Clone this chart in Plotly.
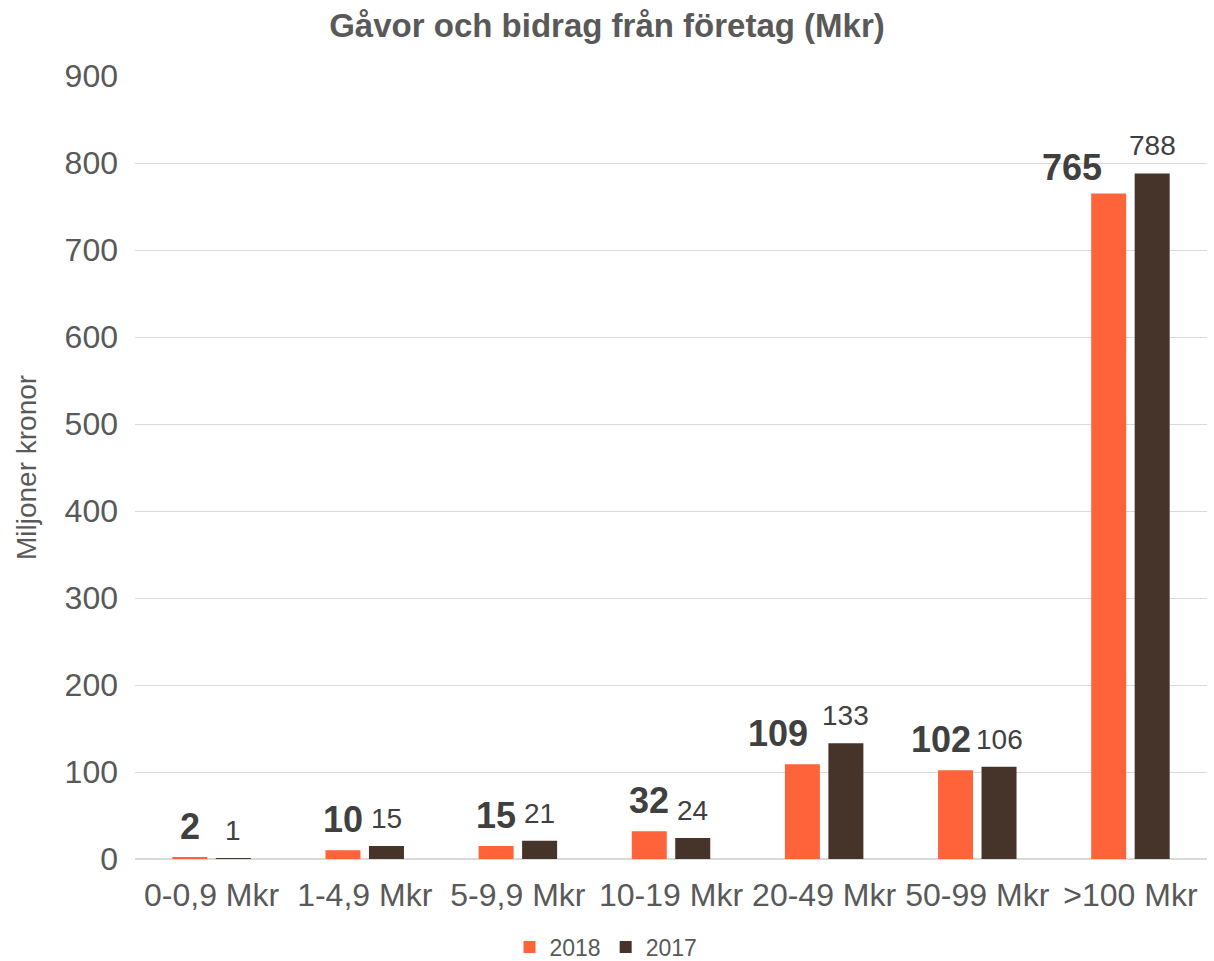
import plotly.graph_objects as go

# Kategorier och värden (Mkr)
CATEGORIES = ["0-0,9 Mkr", "1-4,9 Mkr", "5-9,9 Mkr", "10-19 Mkr",
              "20-49 Mkr", "50-99 Mkr", ">100 Mkr"]
VALUES_2018 = [2, 10, 15, 32, 109, 102, 765]
VALUES_2017 = [1, 15, 21, 24, 133, 106, 788]
Y_TICKS = [0, 100, 200, 300, 400, 500, 600, 700, 800, 900]

# Handflyttade etiketter för 2018 (px), som i originalet
LABEL_XSHIFT_2018 = [0, 0, 0, 0, -24, -15, -37]
LABEL_YSHIFT_2018 = [0, 0, 0, 0, 0, 0, -5]

ORANGE = "#FF6339"
BROWN = "#46332A"
GREY_TEXT = "#595959"
LABEL_TEXT = "#404040"
FONT = "Liberation Sans, Arial, sans-serif"

W, H = 1214, 961
M_L, M_R, M_T, M_B = 135, 7, 76, 102
BARGAP = 0.432
BARGROUPGAP = 0.195

fig = go.Figure()
fig.add_trace(go.Bar(x=CATEGORIES, y=VALUES_2018, name="2018",
                     marker=dict(color=ORANGE, line=dict(width=0)),
                     hoverinfo="x+y+name"))
fig.add_trace(go.Bar(x=CATEGORIES, y=VALUES_2017, name="2017",
                     marker=dict(color=BROWN, line=dict(width=0)),
                     hoverinfo="x+y+name"))

# Förskjutning från kategorins mitt till respektive stapel (px)
cat_w = (W - M_L - M_R) / len(CATEGORIES)
bar_off = cat_w * (1 - BARGAP) / 4

for cat, v, sx, sy in zip(CATEGORIES, VALUES_2018,
                          LABEL_XSHIFT_2018, LABEL_YSHIFT_2018):
    fig.add_annotation(x=cat, y=v, text=f"<b>{v}</b>", showarrow=False,
                       xanchor="center", yanchor="bottom",
                       xshift=-bar_off + sx, yshift=8 + sy,
                       font=dict(size=36, color=LABEL_TEXT, family=FONT))
for cat, v in zip(CATEGORIES, VALUES_2017):
    fig.add_annotation(x=cat, y=v, text=str(v), showarrow=False,
                       xanchor="center", yanchor="bottom",
                       xshift=bar_off, yshift=10,
                       font=dict(size=28, color=LABEL_TEXT, family=FONT))

fig.update_layout(
    width=W, height=H,
    margin=dict(l=M_L, r=M_R, t=M_T, b=M_B),
    paper_bgcolor="white", plot_bgcolor="white",
    font=dict(family=FONT, color=GREY_TEXT),
    barmode="group", bargap=BARGAP, bargroupgap=BARGROUPGAP,
    title=dict(text="<b>Gåvor och bidrag från företag (Mkr)</b>",
               font=dict(size=33, color=GREY_TEXT),
               x=0.5, xref="container", xanchor="center",
               y=1 - 25 / H, yref="container", yanchor="middle"),
    legend=dict(orientation="h", x=606 / W, xanchor="center",
                y=1 - 947 / H, yanchor="middle",
                xref="container", yref="container",
                font=dict(size=23, color=GREY_TEXT),
                itemwidth=30, traceorder="normal"),
    showlegend=True,
)
fig.update_xaxes(showgrid=False, showline=False, ticks="", automargin=False,
                 ticklabelstandoff=14,
                 tickfont=dict(size=32, color=GREY_TEXT))
fig.update_yaxes(range=[0, 900], tickvals=Y_TICKS, automargin=False,
                 showgrid=True, gridcolor="#D9D9D9", gridwidth=1.3,
                 zeroline=True, zerolinecolor="#D9D9D9", zerolinewidth=1.5,
                 showline=False, ticks="", ticklabelstandoff=16,
                 tickfont=dict(size=32, color=GREY_TEXT),
                 title=dict(text="Miljoner kronor", standoff=19,
                            font=dict(size=28, color=GREY_TEXT)))

# sidan ska börja i hörnet, utan webbläsarens standardmarginal
fig.write_html("out.html", config={"displayModeBar": False},
               post_script="document.body.style.margin='0';")
